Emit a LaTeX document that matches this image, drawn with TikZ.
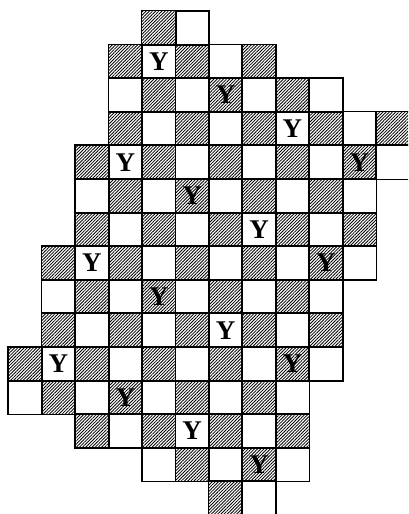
\documentclass[tikz,border=0pt]{standalone}
\usepackage{fontspec}
\setmainfont{Liberation Serif}
\usepackage{tikz}
\usetikzlibrary{patterns.meta}
\tikzset{
  cellbox/.style={
    rectangle, minimum width=1cm, minimum height=1.005cm,
    inner sep=0pt
  },
  hatchcell/.style={
    cellbox,
    pattern={Lines[angle=45, distance=1.9pt, line width=0.7pt]}
  },
  plaincell/.style={cellbox, fill=white},
  gridline/.style={draw=black, line width=1.25pt, line join=miter},
  ymark/.style={font=\fontsize{23}{25}\selectfont\bfseries, inner sep=0pt}
}
\newcommand{\boardrows}{0/4/5, 1/3/7, 2/3/9, 3/3/11, 4/2/11, 5/2/10, 6/2/10, 7/1/10,
                        8/1/9, 9/1/9, 10/0/9, 11/0/8, 12/2/8, 13/4/8, 14/6/7}

\begin{document}
\begin{tikzpicture}[x=1cm, y=1.005cm]
        \clip (-0.25, 0.33) rectangle (11.96, -14.97);
        % rows of the board: row / first column / last column
        \foreach \r/\a/\b in \boardrows {
          \foreach \c in {\a,...,\b} {
            \pgfmathtruncatemacro{\odd}{mod(\r+\c,2)}
            \ifnum\odd=0
              \node[hatchcell] (c\r-\c) at (\c+0.5, -\r-0.5) {};
            \else
              \node[plaincell] (c\r-\c) at (\c+0.5, -\r-0.5) {};
            \fi
          }
        }
        % cell borders on top of the fills
        \foreach \r/\a/\b in \boardrows {
          \foreach \c in {\a,...,\b} {
            \draw[gridline] (c\r-\c.south west) rectangle (c\r-\c.north east);
          }
        }
        % the Y marks
        \foreach \r/\c in {1/4, 2/6, 3/8, 4/3, 4/10, 5/5, 6/7, 7/2, 7/9, 8/4,
                           9/6, 10/1, 10/8, 11/3, 12/5, 13/7} {
          \node[ymark] (y\r-\c) at (c\r-\c) {Y};
        }
      \end{tikzpicture}
\end{document}
